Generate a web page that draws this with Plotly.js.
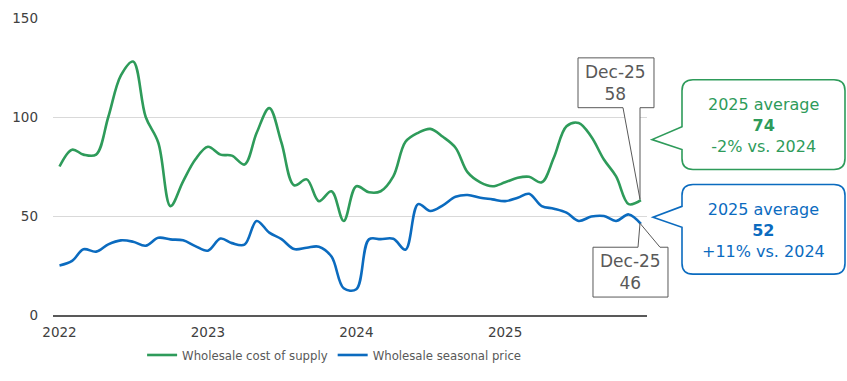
<!DOCTYPE html>
<html>
<head>
<meta charset="utf-8">
<script src="https://cdn.plot.ly/plotly-3.0.1.min.js"></script>
<style>html,body{margin:0;padding:0;background:#fff;}#chart{width:847px;height:381px;}</style>
</head>
<body>
<div id="chart"></div>
<script>
const months = [
  "2022-01-01","2022-02-01","2022-03-01","2022-04-01","2022-05-01","2022-06-01","2022-07-01","2022-08-01","2022-09-01","2022-10-01","2022-11-01","2022-12-01",
  "2023-01-01","2023-02-01","2023-03-01","2023-04-01","2023-05-01","2023-06-01","2023-07-01","2023-08-01","2023-09-01","2023-10-01","2023-11-01","2023-12-01",
  "2024-01-01","2024-02-01","2024-03-01","2024-04-01","2024-05-01","2024-06-01","2024-07-01","2024-08-01","2024-09-01","2024-10-01","2024-11-01","2024-12-01",
  "2025-01-01","2025-02-01","2025-03-01","2025-04-01","2025-05-01","2025-06-01","2025-07-01","2025-08-01","2025-09-01","2025-10-01","2025-11-01","2025-12-01"
];
const costOfSupply = [
  75, 83.5, 81, 81, 100, 121, 128, 100, 87, 55, 67.5, 78.5,
  85, 81, 80.5, 76, 92, 104.5, 87, 65.5, 68.5, 57.5, 62.5, 47.5,
  65, 62, 62.5, 70, 87.5, 92, 94, 90, 84.5, 72, 67, 65,
  67, 69.3, 69.8, 67, 79.5, 95.3, 97, 90, 78.5, 70, 56, 58
];
const seasonalPrice = [
  25, 27.3, 33.2, 32, 35.7, 37.7, 37, 35, 39, 38.2, 37.7, 34.8,
  32.5, 38.6, 36.3, 35.5, 47.5, 41.6, 38.3, 33.3, 34, 34.5, 29.5, 13.5,
  13, 38.2, 38.3, 38.5, 33, 56, 52.5, 55.4, 59.7, 60.6, 59.2, 58.4,
  57.5, 59.2, 61.2, 55, 53.7, 51.7, 47.5, 49.7, 50, 47.5, 50.8, 46
];
const seriesNames = ["Wholesale cost of supply", "Wholesale seasonal price"];
const tickVals = ["2022-01-01","2023-01-01","2024-01-01","2025-01-01"];
const tickText = ["2022","2023","2024","2025"];

const GREEN = "#2E9B5A", BLUE = "#0B6BBF", GREY = "#595959";

// pixel -> paper helpers for callout decorations
const L = 53, R = 647, T = 18, B = 316;
const px = x => ((x - L) / (R - L)).toFixed(5);
const py = y => ((B - y) / (B - T)).toFixed(5);
const P = (x, y) => px(x) + "," + py(y);

function roundedCallout(x0, y0, x1, y1, r, tb0, tb1, tipX, tipY) {
  // rounded rect with a tail on the left edge
  return "M" + P(x0 + r, y0) +
    " L" + P(x1 - r, y0) + " Q" + P(x1, y0) + " " + P(x1, y0 + r) +
    " L" + P(x1, y1 - r) + " Q" + P(x1, y1) + " " + P(x1 - r, y1) +
    " L" + P(x0 + r, y1) + " Q" + P(x0, y1) + " " + P(x0, y1 - r) +
    " L" + P(x0, tb1) + " L" + P(tipX, tipY) + " L" + P(x0, tb0) +
    " L" + P(x0, y0 + r) + " Q" + P(x0, y0) + " " + P(x0 + r, y0) + " Z";
}

const traces = [
  {x: months, y: costOfSupply, name: seriesNames[0], type: "scatter", mode: "lines",
   line: {color: GREEN, width: 2.6, shape: "spline", smoothing: 1}, hoverinfo: "skip"},
  {x: months, y: seasonalPrice, name: seriesNames[1], type: "scatter", mode: "lines",
   line: {color: BLUE, width: 2.6, shape: "spline", smoothing: 1}, hoverinfo: "skip"}
];

const shapes = [
  {type: "path", xref: "paper", yref: "paper", layer: "above",
   path: "M" + P(578, 58) + " L" + P(654, 58) + " L" + P(654, 108) + " L" + P(640, 108) +
         " L" + P(640, 200) + " L" + P(623, 108) + " L" + P(578, 108) + " Z",
   line: {color: GREY, width: 1}, fillcolor: "#ffffff"},
  {type: "path", xref: "paper", yref: "paper", layer: "above",
   path: "M" + P(593, 248) + " L" + P(638, 248) + " L" + P(640, 224) + " L" + P(660, 248) +
         " L" + P(668, 248) + " L" + P(668, 298) + " L" + P(593, 298) + " Z",
   line: {color: GREY, width: 1}, fillcolor: "#ffffff"},
  {type: "path", xref: "paper", yref: "paper", layer: "above",
   path: roundedCallout(682, 80, 845, 170, 11, 127, 150, 652, 140),
   line: {color: GREEN, width: 1.6}, fillcolor: "#ffffff"},
  {type: "path", xref: "paper", yref: "paper", layer: "above",
   path: roundedCallout(682, 185, 845, 275, 11, 207, 228, 653, 218),
   line: {color: BLUE, width: 1.6}, fillcolor: "#ffffff"}
];

const annFont = {family: "DejaVu Sans, Verdana, sans-serif", size: 16};
const annotations = [
  {xref: "paper", yref: "paper", x: +px(616), y: +py(83.5), text: "Dec-25<br>58", showarrow: false,
   xanchor: "center", yanchor: "middle", font: Object.assign({}, annFont, {size: 17, color: GREY})},
  {xref: "paper", yref: "paper", x: +px(630.5), y: +py(273), text: "Dec-25<br>46", showarrow: false,
   xanchor: "center", yanchor: "middle", font: Object.assign({}, annFont, {size: 17, color: GREY})},
  {xref: "paper", yref: "paper", x: +px(763.5), y: +py(126), text: "2025 average<br><b>74</b><br>-2% vs. 2024", showarrow: false,
   xanchor: "center", yanchor: "middle", font: Object.assign({}, annFont, {color: GREEN})},
  {xref: "paper", yref: "paper", x: +px(763.5), y: +py(231), text: "2025 average<br><b>52</b><br>+11% vs. 2024", showarrow: false,
   xanchor: "center", yanchor: "middle", font: Object.assign({}, annFont, {color: BLUE})}
];

const layout = {
  width: 847, height: 381,
  margin: {l: L, r: 847 - R, t: T, b: 381 - B},
  paper_bgcolor: "#ffffff", plot_bgcolor: "#ffffff",
  showlegend: true,
  legend: {orientation: "h", x: 0.15, xanchor: "left", y: -0.131, yanchor: "middle",
           font: {family: "Liberation Sans Narrow, DejaVu Sans Condensed, sans-serif", size: 13, color: GREY},
           itemwidth: 30, tracegroupgap: 0},
  xaxis: {type: "date", range: ["2021-12-16", "2025-12-16"], tickvals: tickVals, ticktext: tickText,
          showgrid: false, zeroline: false, showline: true, linecolor: "#595959", linewidth: 1.5,
          ticks: "", ticklabelstandoff: 4,
          tickfont: {family: "DejaVu Sans, Verdana, sans-serif", size: 13.5, color: "#404040"}},
  yaxis: {range: [0, 150], dtick: 50, tick0: 0, showgrid: true, gridcolor: "#d9d9d9", gridwidth: 1,
          zeroline: false, showline: false, ticks: "", ticklabelstandoff: 14,
          tickfont: {family: "DejaVu Sans, Verdana, sans-serif", size: 13.5, color: "#404040"}},
  shapes: shapes,
  annotations: annotations
};

Plotly.newPlot("chart", traces, layout, {staticPlot: true, displayModeBar: false});
</script>
</body>
</html>
